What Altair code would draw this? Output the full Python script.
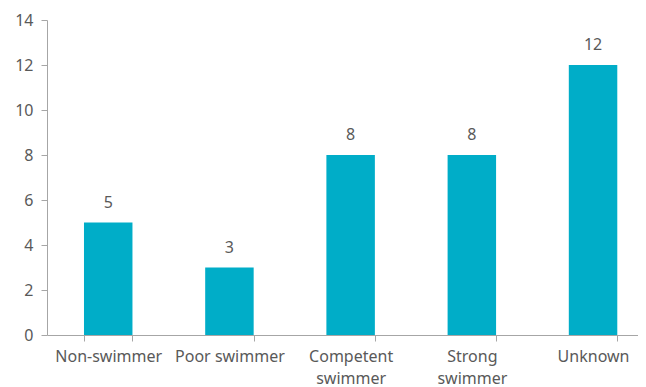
import altair as alt
import pandas as pd

categories = ["Non-swimmer", "Poor swimmer", "Competent swimmer", "Strong swimmer", "Unknown"]
values = [5, 3, 8, 8, 12]

df = pd.DataFrame({"cat": categories, "val": values})

FONT = "Noto Sans"
TXT = "#595959"

x = alt.X("cat:N", sort=categories, title=None,
          scale=alt.Scale(paddingInner=0.6, paddingOuter=0.238, align=0.641),
          axis=alt.Axis(labelAngle=0, labelFont=FONT, labelFontSize=16, labelColor=TXT,
                        domainColor="#A6A6A6", tickColor="#A6A6A6", tickSize=6, tickBand="extent",
                        labelPadding=7, labelLineHeight=22,
                        labelExpr="datum.label == 'Competent swimmer' ? ['Competent','swimmer'] : datum.label == 'Strong swimmer' ? ['Strong','swimmer'] : datum.label"))
y = alt.Y("val:Q", title=None,
          scale=alt.Scale(domain=[0, 14]),
          axis=alt.Axis(values=list(range(0, 15, 2)), grid=False, labelFont=FONT, labelFontSize=16,
                        labelColor=TXT, domainColor="#A6A6A6", tickColor="#A6A6A6", tickSize=6,
                        labelPadding=8))

bars = alt.Chart(df).mark_bar(color="#00ADC8").encode(x=x, y=y)
text = alt.Chart(df).mark_text(dy=-12, baseline="bottom", font=FONT, fontSize=16, color=TXT).encode(
    x=alt.X("cat:N", sort=categories), y="val:Q", text="val:Q")

chart = (bars + text).properties(
    width=591, height=315,
    autosize=alt.AutoSizeParams(type="none"),
    padding={"left": 39, "top": 12, "right": 0, "bottom": 52},
).configure_view(stroke=None)

chart.save("out.html", embed_options={"renderer": "svg", "actions": False})
